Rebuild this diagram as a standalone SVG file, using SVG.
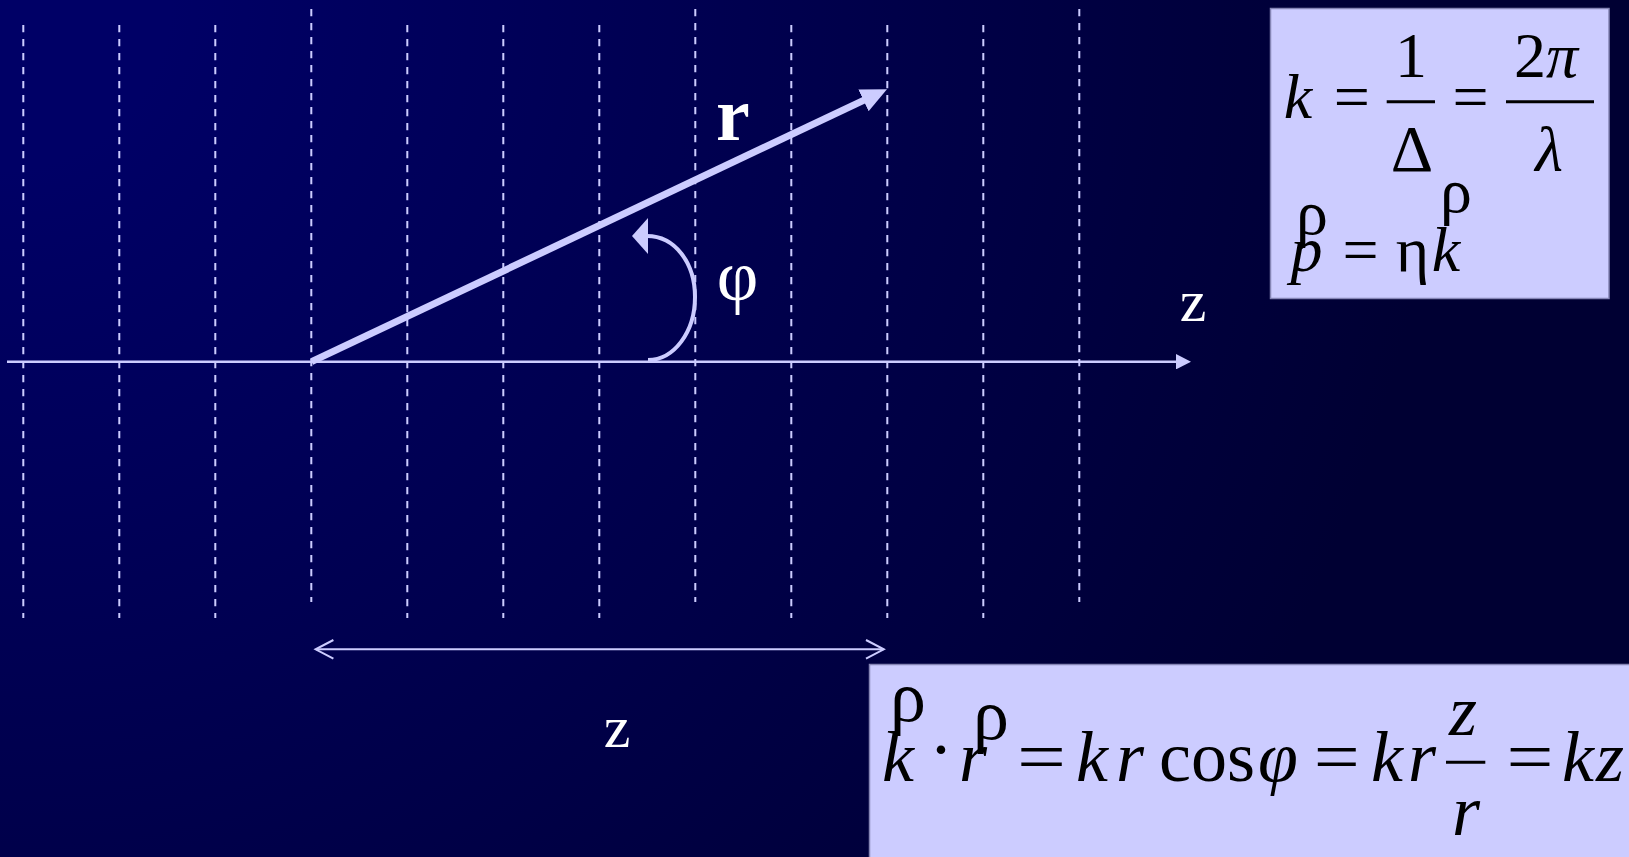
<svg xmlns="http://www.w3.org/2000/svg" width="1629" height="857" viewBox="0 0 1629 857">
<defs>
<radialGradient id="bg" gradientUnits="userSpaceOnUse" cx="0" cy="0" r="1700">
<stop offset="0.1" stop-color="#000066"/>
<stop offset="0.85" stop-color="#000033"/>
</radialGradient>
<marker id="headR" markerUnits="userSpaceOnUse" viewBox="0 0 26 24" markerWidth="26" markerHeight="24" refX="3" refY="12" orient="auto">
<path d="M0,0 L26,12 L0,24 z" fill="#CCCCFF"/>
</marker>
<marker id="headAxis" markerUnits="userSpaceOnUse" viewBox="0 0 15 15.4" markerWidth="15" markerHeight="15.4" refX="0" refY="7.7" orient="auto">
<path d="M0,0 L15,7.7 L0,15.4 z" fill="#CCCCFF"/>
</marker>
<marker id="headArc" markerUnits="userSpaceOnUse" viewBox="0 0 16 36" markerWidth="16" markerHeight="36" refX="1" refY="18" orient="auto">
<path d="M0,0 L16,18 L0,36 z" fill="#CCCCFF"/>
</marker>
</defs>
<style>
.dash{stroke:#CCCCFF;stroke-width:2;stroke-dasharray:7.3 6.7;fill:none}
.box{fill:#CCCCFF;stroke:#8585B5;stroke-width:1.5}
.lbl{font-family:"Liberation Serif","Times New Roman",serif;fill:#FFFFFF}
.m{font-family:"Liberation Serif","Times New Roman",serif;fill:#000000;text-anchor:middle}
.i{font-style:italic}
.bar{stroke:#000000;stroke-width:3}
</style>
<rect x="0" y="0" width="1629" height="857" fill="url(#bg)"/>
<g id="wavefronts">
<line class="dash" x1="23.3" y1="25" x2="23.3" y2="618"/>
<line class="dash" x1="119.3" y1="25" x2="119.3" y2="618"/>
<line class="dash" x1="215.3" y1="25" x2="215.3" y2="618"/>
<line class="dash" x1="311.3" y1="9" x2="311.3" y2="602"/>
<line class="dash" x1="407.3" y1="25" x2="407.3" y2="618"/>
<line class="dash" x1="503.3" y1="25" x2="503.3" y2="618"/>
<line class="dash" x1="599.3" y1="25" x2="599.3" y2="618"/>
<line class="dash" x1="695.3" y1="9" x2="695.3" y2="602"/>
<line class="dash" x1="791.3" y1="25" x2="791.3" y2="618"/>
<line class="dash" x1="887.3" y1="25" x2="887.3" y2="618"/>
<line class="dash" x1="983.3" y1="25" x2="983.3" y2="618"/>
<line class="dash" x1="1079.3" y1="9" x2="1079.3" y2="602"/>
</g>
<g id="connectors" fill="none" stroke="#CCCCFF">
<line id="z-axis" x1="7" y1="361.7" x2="1176" y2="361.7" stroke-width="2.5" marker-end="url(#headAxis)"/>
<line id="r-vector" x1="311.6" y1="361.7" x2="866.2" y2="99.1" stroke-width="7" marker-end="url(#headR)"/>
<path id="phi-arc" d="M648,360 C674,360 695,332 695,297 C695,263 675,236 647,236" stroke-width="4" marker-end="url(#headArc)"/>
<g id="z-dimension" stroke-width="2">
<line x1="316" y1="649.3" x2="883.5" y2="649.3"/>
<path d="M333.4,640 L315.6,649.3 L333.4,658.6"/>
<path d="M866,640 L883.8,649.3 L866,658.6"/>
</g>
</g>
<g id="labels">
<text class="lbl" x="716" y="140" font-size="76" font-weight="bold">r</text>
<text class="lbl" x="737.5" y="300" font-size="72" text-anchor="middle">φ</text>
<text class="lbl" x="1193" y="321" font-size="60" text-anchor="middle">z</text>
<text class="lbl" x="617" y="747" font-size="60" text-anchor="middle">z</text>
</g>
<g id="box-k">
<rect class="box" x="1270.5" y="8.5" width="338.5" height="290"/>
<text class="m i" x="1298" y="118" font-size="64">k</text>
<text class="m" x="1351.7" y="118" font-size="64">=</text>
<line class="bar" x1="1386.7" y1="101.7" x2="1435" y2="101.7"/>
<text class="m" x="1411" y="76.7" font-size="64">1</text>
<text class="m" x="1412" y="170.7" font-size="66">Δ</text>
<text class="m" x="1470.5" y="118" font-size="64">=</text>
<line class="bar" x1="1506" y1="101.7" x2="1594" y2="101.7"/>
<text class="m" x="1546" y="77" font-size="64">2<tspan class="i">π</tspan></text>
<text class="m i" x="1549" y="170.7" font-size="64">λ</text>
<text class="m" x="1312" y="234" font-size="64">ρ</text>
<text class="m i" x="1306.6" y="271" font-size="64">p</text>
<text class="m" x="1360.5" y="271" font-size="64">=</text>
<text class="m" x="1412.5" y="271" font-size="64">η</text>
<text class="m" x="1456" y="212" font-size="64">ρ</text>
<text class="m i" x="1446" y="271" font-size="64">k</text>
</g>
<g id="box-kr">
<rect class="box" x="869.5" y="664.5" width="765" height="200"/>
<text class="m" x="908" y="721" font-size="72">ρ</text>
<text class="m i" x="898" y="781" font-size="72">k</text>
<text class="m" x="941" y="774" font-size="72">·</text>
<text class="m" x="991" y="739" font-size="72">ρ</text>
<text class="m i" x="973" y="781" font-size="72">r</text>
<text class="m" x="1041.5" y="781" font-size="72" textLength="49" lengthAdjust="spacingAndGlyphs">=</text>
<text class="m i" x="1092" y="781" font-size="72">k</text>
<text class="m i" x="1130" y="781" font-size="72">r</text>
<text class="m" x="1207" y="781" font-size="72">cos</text>
<text class="m i" x="1278" y="781" font-size="72">φ</text>
<text class="m" x="1336.8" y="781" font-size="72" textLength="46" lengthAdjust="spacingAndGlyphs">=</text>
<text class="m i" x="1387" y="781" font-size="72">k</text>
<text class="m i" x="1422" y="781" font-size="72">r</text>
<line class="bar" x1="1446" y1="762.3" x2="1485.3" y2="762.3"/>
<text class="m i" x="1463" y="735" font-size="72">z</text>
<text class="m i" x="1466" y="835" font-size="72">r</text>
<text class="m" x="1530" y="781" font-size="72" textLength="47" lengthAdjust="spacingAndGlyphs">=</text>
<text class="m i" x="1578" y="781" font-size="72">k</text>
<text class="m i" x="1610" y="781" font-size="72">z</text>
</g>
</svg>
